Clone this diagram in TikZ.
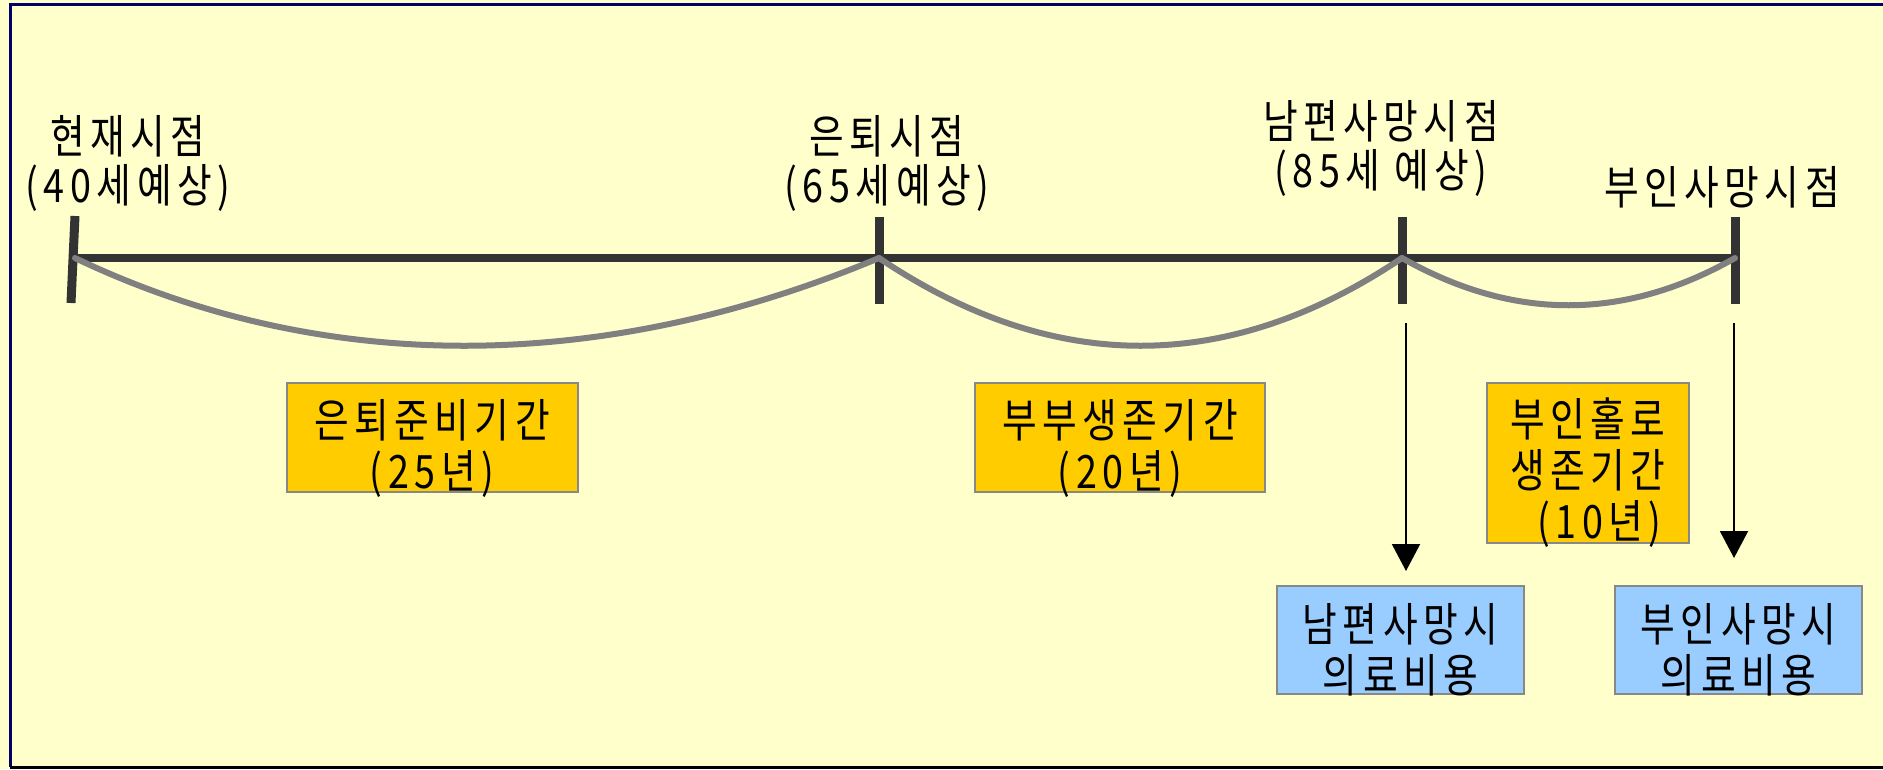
\documentclass[tikz,border=0pt]{standalone}
\usepackage{fontspec}
\setmainfont{Noto Sans CJK KR}[FakeStretch=0.82,LetterSpace=12]
\usetikzlibrary{arrows.meta}
\definecolor{bgyel}{HTML}{FFFFCC}
\definecolor{framenavy}{HTML}{000066}
\definecolor{tlgray}{HTML}{333333}
\definecolor{arcgray}{HTML}{808080}
\definecolor{boxorg}{HTML}{FFCC00}
\definecolor{boxblu}{HTML}{99CCFF}
\definecolor{boxedge}{HTML}{888888}
\begin{document}
\begin{tikzpicture}[x=1pt,y=-1pt,
  lbl/.style={align=center, inner sep=0pt, font=\fontsize{46}{49}\selectfont},
  btxt/.style={align=center, inner sep=0pt, font=\fontsize{46}{51}\selectfont},
  obox/.style={draw=boxedge, line width=2pt, fill=boxorg},
  bbox/.style={draw=boxedge, line width=2pt, fill=boxblu},
  tline/.style={draw=tlgray, line width=8pt},
  tick/.style={draw=tlgray, line width=9pt},
  arc/.style={draw=arcgray, line width=6pt, line cap=round},
  arr/.style={draw=black, line width=2pt, -{Triangle[length=27pt,width=28pt]}}]
\fill[bgyel] (0,0) rectangle (1883,769);
\useasboundingbox (0,0) rectangle (1883,769);
\draw[framenavy, line width=3pt] (1883,4) -- (10,4) -- (10,767);
\draw[black, line width=3pt] (10,767) -- (1883,767);
\coordinate (t0) at (75,258);
\coordinate (t1) at (879,258);
\coordinate (t2) at (1402,258);
\coordinate (t3) at (1735,258);
\draw[tline] (t0) -- (t3);
\draw[tick] (75,216) -- (71,303);
\draw[tick] (879,217) -- (879,304);
\draw[tick] (1402,217) -- (1402,304);
\draw[tick] (1735,217) -- (1735,304);
\draw[arc] (t0) .. controls (320,375) and (600,375) .. (t1);
\draw[arc] (t1) .. controls (1053,375) and (1228,375) .. (t2);
\draw[arc] (t2) .. controls (1513,321) and (1624,321) .. (t3);
\node[lbl] (now) at (128,163) {현재시점\\(40세예상)};
\node[lbl] (retire) at (887,163) {은퇴시점\\(65세예상)};
\node[lbl] (hdeath) at (1381,148) {남편사망시점\\(85세 예상)};
\node[lbl] (wdeath) at (1722,187) {부인사망시점};
\node[obox, minimum width=291pt, minimum height=109pt] (prep) at (432,437.5) {};
\node[btxt] (preptxt) at ([yshift=-11pt]prep.center) {은퇴준비기간\\(25년)};
\node[obox, minimum width=290pt, minimum height=109pt] (couple) at (1120,437.5) {};
\node[btxt] (coupletxt) at ([yshift=-11pt]couple.center) {부부생존기간\\(20년)};
\node[obox, minimum width=202pt, minimum height=160pt] (alone) at (1588,463) {};
\node[btxt] (alonetxt) at ([yshift=-10pt]alone.center) {부인홀로\\생존기간\\\hspace*{0.5em}(10년)};
\node[bbox, minimum width=247pt, minimum height=108pt] (hcost) at (1400.5,640) {};
\node[btxt] (hcosttxt) at ([yshift=-10pt]hcost.center) {남편사망시\\의료비용};
\node[bbox, minimum width=247pt, minimum height=108pt] (wcost) at (1738.5,640) {};
\node[btxt] (wcosttxt) at ([yshift=-10pt]wcost.center) {부인사망시\\의료비용};
\coordinate (hd) at (1406,323);
\coordinate (wd) at (1734,323);
\draw[arr, shorten >=14pt] (hd) -- (hd |- hcost.north);
\draw[arr, shorten >=27pt] (wd) -- (wd |- wcost.north);
\end{tikzpicture}
\end{document}
